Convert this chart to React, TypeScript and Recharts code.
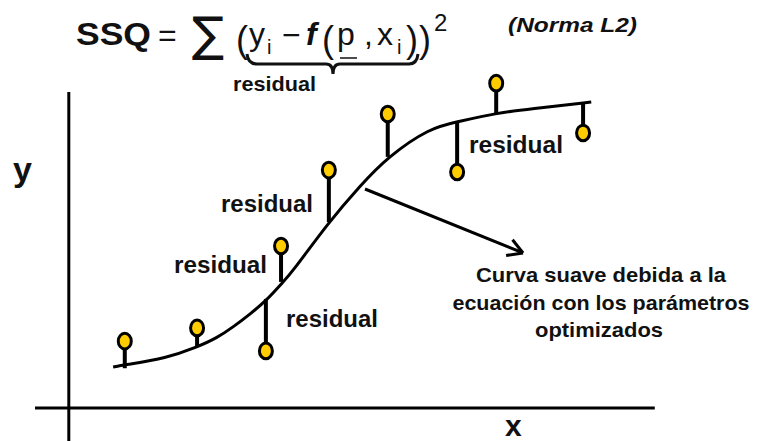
import { ComposedChart, Line, Scatter, XAxis, YAxis, ReferenceLine, ErrorBar } from 'recharts';

// measured points (x, y) and the fitted value under each one
const obsX = [0.94, 2.18, 3.36, 3.62, 4.44, 5.45, 6.64, 7.31, 8.8];
const obsY = [2.12, 2.54, 1.81, 5.14, 7.55, 9.33, 7.49, 10.31, 8.73];
const fitY = [1.26, 1.93, 3.46, 4.0, 5.9, 7.97, 9.08, 9.36, 9.68];

// smooth curve
const curveX = [0.74, 0.91, 1.66, 2.18, 2.52, 2.8, 3.09, 3.38, 3.64, 3.81, 4.44, 4.97, 5.45, 6.17, 6.64, 7.31, 7.89, 8.94];
const curveY = [1.3, 1.36, 1.58, 1.93, 2.22, 2.57, 2.98, 3.43, 3.97, 4.31, 5.9, 7.04, 7.97, 8.89, 9.08, 9.36, 9.49, 9.71];

// arrow: tail, tip, two wings
const arrowX = [5.06, 7.77, 7.59, 7.48];
const arrowY = [6.95, 4.92, 5.34, 4.84];

const W = 758;
const H = 441;
const ink = '#111';
const font = '"Liberation Sans", Arial, sans-serif';

// residual bar goes from the point down (or up) to the curve
const points = obsX.map((x, i) => ({
  x,
  y: obsY[i],
  res: obsY[i] > fitY[i] ? [obsY[i] - fitY[i], 0] : [0, fitY[i] - obsY[i]],
}));
const curve = curveX.map((x, i) => ({ x, y: curveY[i] }));

const Dot = (props: any) => {
  const { cx, cy } = props;
  return <ellipse cx={cx} cy={cy} rx={6.5} ry={7.8} fill="#FFCC00" stroke="#000" strokeWidth={3} />;
};

const Txt = ({ x, y, w, size = 23, children, anchor = 'start', italic = false }: any) => (
  <text
    x={x}
    y={y}
    fontFamily={font}
    fontSize={size}
    fontWeight="bold"
    fontStyle={italic ? 'italic' : 'normal'}
    fill={ink}
    textAnchor={anchor}
    textLength={w}
    lengthAdjust="spacingAndGlyphs"
  >
    {children}
  </text>
);

function Formula() {
  // one text element, glyphs placed one by one
  return (
    <text fontFamily={font} fill={ink} fontSize={32}>
      <tspan x={76} y={45} fontWeight="bold" fontSize={31} textLength={75} lengthAdjust="spacingAndGlyphs">SSQ</tspan>
      <tspan x={158} y={46}>=</tspan>
      <tspan x={192} y={51} fontFamily='"DejaVu Sans", sans-serif' fontSize={48}>∑</tspan>
      <tspan x={236} y={52} fontSize={36}>(</tspan>
      <tspan x={249} y={45}>y</tspan>
      <tspan x={267} y={54} fontSize={20}>i</tspan>
      <tspan x={282} y={46}>−</tspan>
      <tspan x={306} y={45} fontWeight="bold" fontStyle="italic">f</tspan>
      <tspan x={322} y={52} fontSize={36}>(</tspan>
      <tspan x={337} y={45}>p</tspan>
      <tspan x={364} y={45}>,</tspan>
      <tspan x={377} y={45}>x</tspan>
      <tspan x={397} y={54} fontSize={20}>i</tspan>
      <tspan x={406} y={52} fontSize={36}>)</tspan>
      <tspan x={419} y={52} fontSize={36}>)</tspan>
      <tspan x={434} y={31} fontSize={24}>2</tspan>
    </text>
  );
}

function Overlay() {
  return (
    <svg width={W} height={H} style={{ position: 'absolute', left: 0, top: 0, pointerEvents: 'none' }}>
      <Formula />
      <line x1={340} y1={58} x2={357} y2={58} stroke={ink} strokeWidth={1.5} />
      <Txt x={508} y={32} w={129} size={21} italic>(Norma L2)</Txt>
      <path
        d="M247 54 Q248 64 257 64 L326 64 Q333 64 333 74 Q333 64 340 64 L409 64 Q417 64 418 54"
        fill="none"
        stroke={ink}
        strokeWidth={3}
      />
      <Txt x={233} y={91} w={83} size={21}>residual</Txt>

      {/* residual labels */}
      <Txt x={221} y={212} w={92}>residual</Txt>
      <Txt x={174} y={273} w={93}>residual</Txt>
      <Txt x={286} y={327} w={92}>residual</Txt>
      <Txt x={469} y={153} w={94}>residual</Txt>

      {/* note */}
      <Txt x={601} y={282} w={250} size={21} anchor="middle">Curva suave debida a la</Txt>
      <Txt x={601} y={310} w={297} size={21} anchor="middle">ecuación con los parámetros</Txt>
      <Txt x={599} y={337} w={128} size={21} anchor="middle">optimizados</Txt>

      {/* axis names */}
      <Txt x={13} y={181} size={34}>y</Txt>
      <Txt x={505} y={436} size={30}>x</Txt>
    </svg>
  );
}

export default function App() {
  return (
    <div style={{ position: 'absolute', left: 0, top: 0, width: W, height: H, background: '#fff' }}>
      <ComposedChart width={W} height={H} margin={{ top: 0, right: 0, bottom: 0, left: 0 }}>
        <XAxis dataKey="x" type="number" domain={[-1.2, 11.8]} hide allowDataOverflow />
        <YAxis dataKey="y" type="number" domain={[-1.05, 12.95]} hide allowDataOverflow />
        <ReferenceLine
          segment={[{ x: -0.6, y: 0 }, { x: 10.03, y: 0 }]}
          stroke="#000"
          strokeWidth={3}
          ifOverflow="visible"
        />
        <ReferenceLine
          segment={[{ x: -0.02, y: -1.05 }, { x: -0.02, y: 10.03 }]}
          stroke="#000"
          strokeWidth={3}
          ifOverflow="visible"
        />
        <ReferenceLine
          segment={[{ x: arrowX[0], y: arrowY[0] }, { x: arrowX[1], y: arrowY[1] }]}
          stroke="#000"
          strokeWidth={3}
          ifOverflow="visible"
        />
        <ReferenceLine
          segment={[{ x: arrowX[2], y: arrowY[2] }, { x: arrowX[1], y: arrowY[1] }]}
          stroke="#000"
          strokeWidth={3}
          ifOverflow="visible"
        />
        <ReferenceLine
          segment={[{ x: arrowX[3], y: arrowY[3] }, { x: arrowX[1], y: arrowY[1] }]}
          stroke="#000"
          strokeWidth={3}
          ifOverflow="visible"
        />
        <Line
          data={curve}
          dataKey="y"
          type="basis"
          stroke="#000"
          strokeWidth={3}
          dot={false}
          activeDot={false}
          isAnimationActive={false}
        />
        <Scatter data={points} dataKey="y" shape={<Dot />} isAnimationActive={false}>
          <ErrorBar dataKey="res" direction="y" width={0} stroke="#000" strokeWidth={4} />
        </Scatter>
      </ComposedChart>
      <Overlay />
    </div>
  );
}
